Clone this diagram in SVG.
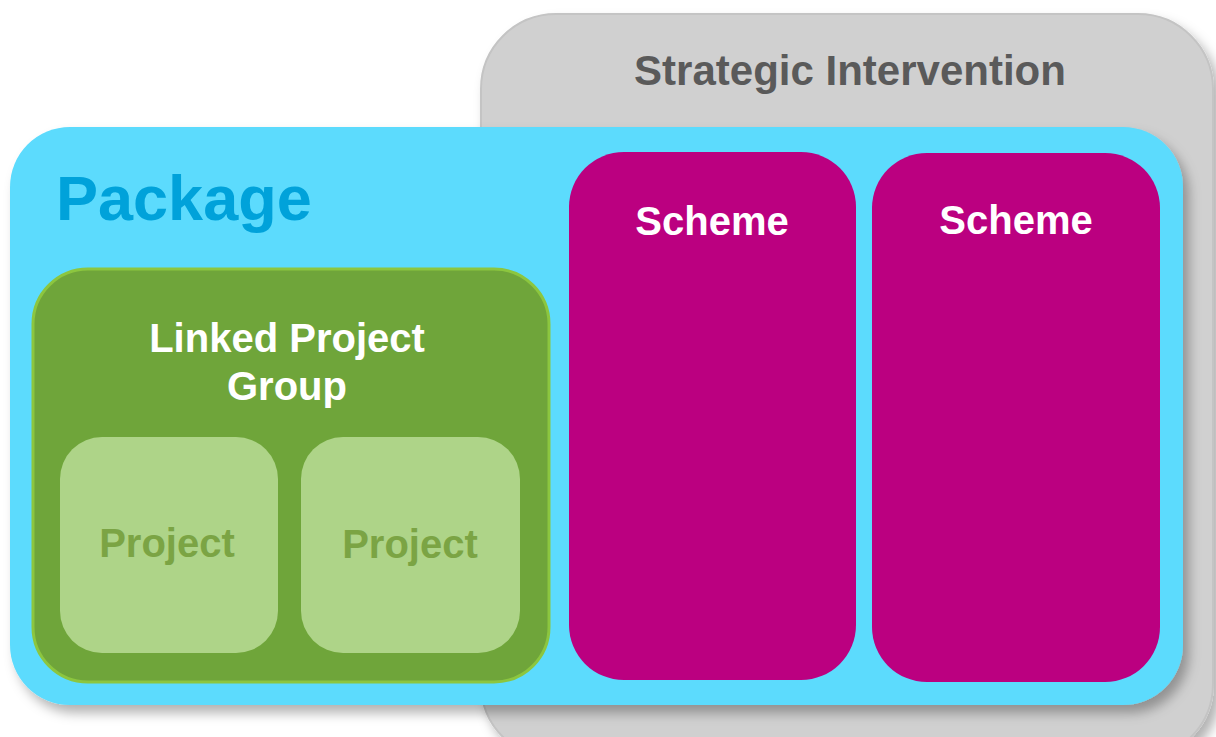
<svg xmlns="http://www.w3.org/2000/svg" width="1216" height="737" viewBox="0 0 1216 737">
<defs>
<filter id="sh" x="-10%" y="-10%" width="130%" height="130%">
<feDropShadow dx="6" dy="8" stdDeviation="6" flood-color="#000" flood-opacity="0.3"/>
</filter>
<style>
text{font-family:"Liberation Sans",Arial,sans-serif;font-weight:bold;text-anchor:middle}
.si{fill:#5a5a5a;font-size:42px}
.pk{fill:#00a2da;font-size:63px;text-anchor:start}
.wh{fill:#ffffff;font-size:40px}
.pj{fill:#7ba444;font-size:40px}
.scheme{fill:#bb0080}
.proj{fill:#aed488}
</style>
</defs>
<rect width="1216" height="737" fill="#ffffff"/>
<g id="strategic-intervention">
<rect x="481" y="14" width="732" height="745" rx="75" fill="#d0d0d0" stroke="#c4c4c4" stroke-width="2" filter="url(#sh)"/>
<text class="si" x="850" y="85">Strategic Intervention</text>
</g>
<g id="package">
<rect x="10" y="127" width="1173" height="578" rx="60" fill="#5cdbfd" filter="url(#sh)"/>
<text class="pk" x="56" y="220">Package</text>
</g>
<g id="linked-project-group">
<rect x="33" y="269" width="516" height="413" rx="55" fill="#6fa53a" stroke="#8cc63f" stroke-width="3"/>
<text class="wh" x="287" y="352">Linked Project</text>
<text class="wh" x="287" y="400">Group</text>
</g>
<g id="project-1">
<rect x="60" y="437" width="218" height="216" rx="42" class="proj"/>
<text class="pj" x="167" y="557">Project</text>
</g>
<g id="project-2">
<rect x="301" y="437" width="219" height="216" rx="42" class="proj"/>
<text class="pj" x="410" y="558">Project</text>
</g>
<g id="scheme-1">
<rect x="569" y="152" width="287" height="528" rx="55" class="scheme"/>
<text class="wh" x="712" y="235">Scheme</text>
</g>
<g id="scheme-2">
<rect x="872" y="153" width="288" height="529" rx="55" class="scheme"/>
<text class="wh" x="1016" y="234">Scheme</text>
</g>
<g id="connectors"></g>
</svg>
